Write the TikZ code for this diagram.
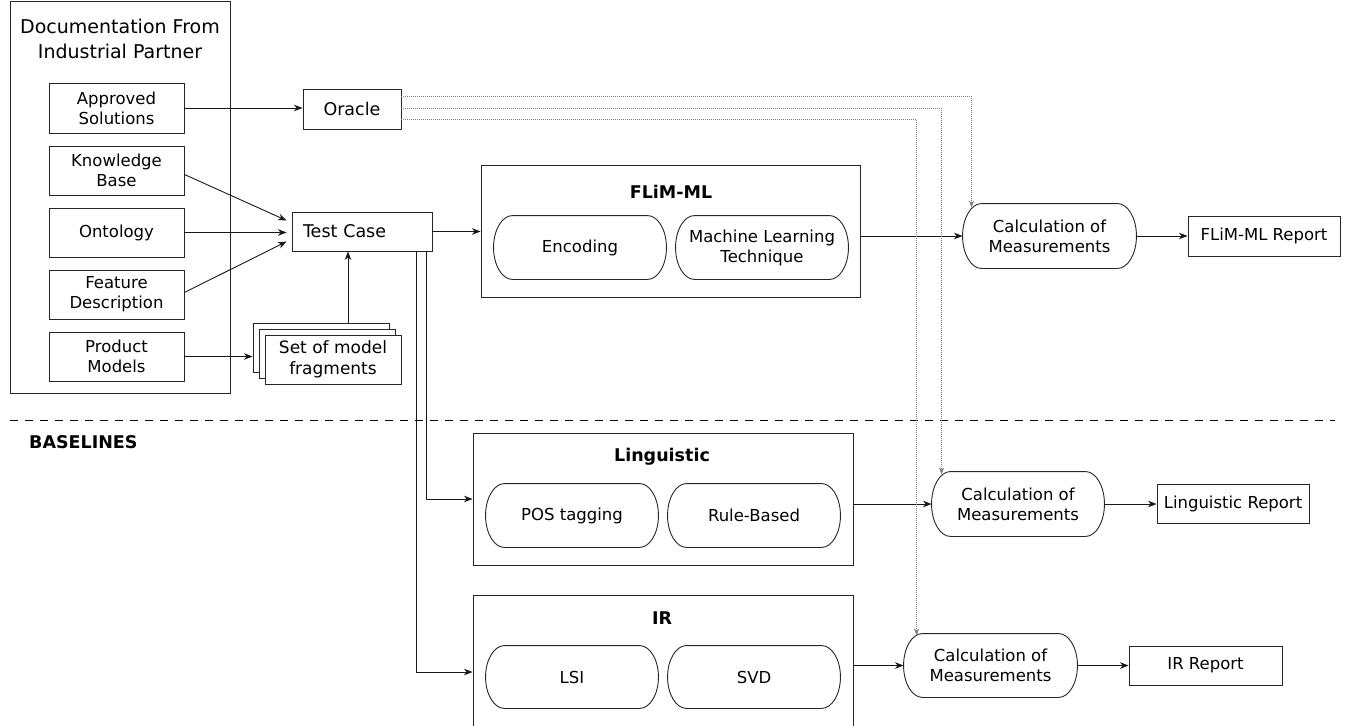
\documentclass[tikz,border=0pt]{standalone}
\usepackage{fontspec}
\setmainfont{DejaVu Sans}
\usetikzlibrary{arrows.meta,calc}

\tikzset{
  base/.style={draw=black!85, line width=0.9pt, inner sep=0pt, align=center,
    font=\fontsize{16.5}{20}\selectfont},
  box/.style={base, rectangle},
  pill/.style={base, rectangle, draw=none},
  pillline/.style={draw=black!85, line width=0.9pt},
  heading/.style={inner sep=0pt, font=\fontsize{17.5}{20}\selectfont\bfseries},
  arr/.style={draw=black!90, line width=0.9pt, -{Stealth[length=8.5pt,width=6.5pt,inset=2.5pt]}},
  oraclelink/.style={draw=black!50, line width=0.6pt, dash pattern=on 0.8pt off 1.2pt,
    -{Stealth[length=7pt,width=5pt,inset=2pt]}},
  separator/.style={draw=black, line width=0.9pt, dash pattern=on 8pt off 7pt}
}

\begin{document}
\begin{tikzpicture}[x=1pt, y=-1pt]
\useasboundingbox (0,0) rectangle (1348,725);

% documentation supplied by the partner
\node[box, minimum width=220pt, minimum height=392pt] (doc) at (120,197) {};
\node[inner sep=0pt, align=center, font=\fontsize{19}{25}\selectfont] (doctitle) at (120,39)
  {Documentation From\\Industrial Partner};
\node[box, minimum width=135pt, minimum height=50pt] (appr) at (116.5,108) {Approved\\Solutions};
\node[box, minimum width=135pt, minimum height=49pt] (know) at (116.5,170.5) {Knowledge\\Base};
\node[box, minimum width=135pt, minimum height=49pt] (onto) at (116.5,232.5) {Ontology};
\node[box, minimum width=135pt, minimum height=49pt] (feat) at (116.5,294.5) {Feature\\Description};
\node[box, minimum width=135pt, minimum height=49pt] (prod) at (116.5,356.5) {Product\\Models};

% oracle and test case
\node[box, minimum width=98pt, minimum height=40pt, font=\fontsize{17.5}{20}\selectfont] (oracle) at (352,109) {Oracle};
\node[box, text width=118pt, inner xsep=11pt, minimum height=39pt, align=left,
  font=\fontsize{17.5}{20}\selectfont] (test) at (362,231.5) {Test Case};

% stacked model fragments
\node[box, fill=white, minimum width=136pt, minimum height=49pt] (frag3) at (321,347.5) {};
\node[box, fill=white, minimum width=136pt, minimum height=49pt] (frag2) at (327,353.5) {};
\node[box, fill=white, minimum width=136pt, minimum height=49pt,
  font=\fontsize{17}{21}\selectfont] (frag) at (333,359.5) {Set of model\\fragments};

% FLiM-ML approach
\node[box, minimum width=379pt, minimum height=132pt] (flim) at (670.5,231) {};
\node[heading] (flimtitle) at (671,192) {FLiM-ML};
\node[pill, minimum width=172pt, minimum height=63pt] (enc) at (580,247.5) {Encoding};
\node[pill, minimum width=172pt, minimum height=63pt] (mlt) at (762,247.5) {Machine Learning\\Technique};
\node[pill, minimum width=173pt, minimum height=64pt] (fcalc) at (1049.5,236) {Calculation of\\Measurements};
\node[box, minimum width=152pt, minimum height=40pt] (frep) at (1264,236) {FLiM-ML Report};

% baselines
\draw[separator] (10,420) coordinate (sepl) -- (1335,420) coordinate (sepr);
\node[heading, anchor=west] (baselines) at (29,442) {BASELINES};

\node[box, minimum width=380pt, minimum height=132pt] (ling) at (663,499) {};
\node[heading] (lingtitle) at (662,457) {Linguistic};
\node[pill, minimum width=172pt, minimum height=63pt] (pos) at (572,515.5) {POS tagging};
\node[pill, minimum width=172pt, minimum height=63pt] (rule) at (754,515.5) {Rule-Based};
\node[pill, minimum width=172pt, minimum height=64pt] (lcalc) at (1018,504) {Calculation of\\Measurements};
\node[box, minimum width=152pt, minimum height=39pt] (lrep) at (1233,504) {Linguistic Report};

\node[box, minimum width=380pt, minimum height=132pt] (ir) at (663,661) {};
\node[heading] (irtitle) at (662,618) {IR};
\node[pill, minimum width=172pt, minimum height=62pt] (lsi) at (572,677) {LSI};
\node[pill, minimum width=172pt, minimum height=62pt] (svd) at (754,677) {SVD};
\node[pill, minimum width=173pt, minimum height=63pt] (icalc) at (990.5,665.5) {Calculation of\\Measurements};
\node[box, minimum width=153pt, minimum height=39pt] (irep) at (1205.5,665.5) {IR Report};

% outlines of the rounded steps: straight top and bottom, half-ellipse ends
\foreach \s in {enc,mlt,fcalc,pos,rule,lcalc,lsi,svd,icalc} {
  \draw[pillline] let \p1=(\s.north west), \p2=(\s.south east),
      \n1={abs(\y1-\y2)/2} in
    ([xshift=19pt]\s.north west) -- ([xshift=-19pt]\s.north east)
    arc[start angle=90, end angle=-90, x radius=19pt, y radius=\n1]
    -- ([xshift=19pt]\s.south west)
    arc[start angle=270, end angle=90, x radius=19pt, y radius=\n1] -- cycle;
}

% inputs to the oracle and the test case
\draw[arr] (appr.east) -- (oracle.west |- appr.east);
\draw[arr] ([yshift=-4pt]know.east) -- ([xshift=-5pt,yshift=11pt]test.west);
\draw[arr] (onto.east) -- ([xshift=-5pt]test.west |- onto.east);
\draw[arr] ([yshift=2pt]feat.east) -- ([xshift=-5pt,yshift=-10pt]test.west);
\draw[arr] (prod.east) -- (frag3.west |- prod.east);
\draw[arr] ([xshift=27pt]frag3.north) -- ([xshift=27pt]frag3.north |- test.south);

% test case to the three approaches
\draw[arr] (test.east) -- (flim.west |- test.east);
\draw[arr] ([xshift=64pt]test.south) |- (ling.west);
\draw[arr] ([xshift=54pt]test.south) |- ([yshift=-11pt]ir.west);

% approaches to measurements to reports
\draw[arr] (flim.east |- fcalc.west) -- (fcalc.west);
\draw[arr] (fcalc.east) -- (fcalc.east -| frep.west);
\draw[arr] (ling.east |- lcalc.west) -- (lcalc.west);
\draw[arr] (lcalc.east) -- (lcalc.east -| lrep.west);
\draw[arr] (ir.east |- icalc.west) -- (icalc.west);
\draw[arr] (icalc.east) -- (icalc.east -| irep.west);

% oracle feeds every measurement step
\coordinate (ftop) at ([xshift=9pt,yshift=-4pt]fcalc.west |- fcalc.north);
\coordinate (ltop) at ([xshift=10pt,yshift=-3pt]lcalc.west |- lcalc.north);
\coordinate (itop) at ([xshift=13pt,yshift=-2pt]icalc.west |- icalc.north);
\draw[oraclelink] ([yshift=13pt]oracle.east) -| (ftop);
\draw[oraclelink] ([yshift=1pt]oracle.east) -| (ltop);
\draw[oraclelink] ([yshift=-10pt]oracle.east) -| (itop);
\end{tikzpicture}
\end{document}
